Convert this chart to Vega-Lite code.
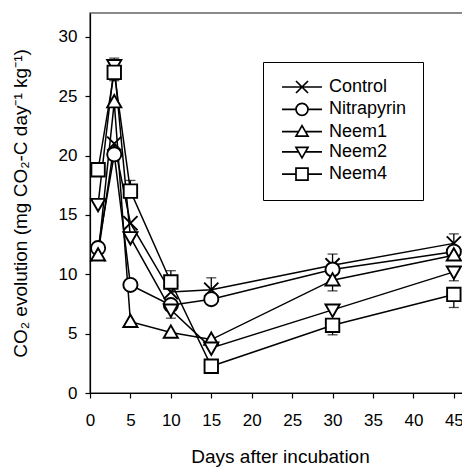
{
  "$schema": "https://vega.github.io/schema/vega-lite/v6.json",
  "width": 380,
  "height": 380,
  "autosize": {"type": "none"},
  "padding": {"left": 90, "top": 13, "right": 0, "bottom": 75},
  "background": "white",
  "datasets": {
    "pts": [
      {"trt": "Control", "day": 1, "v": 11.7},
      {"trt": "Control", "day": 3, "v": 21.0},
      {"trt": "Control", "day": 5, "v": 14.3},
      {"trt": "Control", "day": 10, "v": 8.5},
      {"trt": "Control", "day": 15, "v": 8.7},
      {"trt": "Control", "day": 30, "v": 10.75},
      {"trt": "Control", "day": 45, "v": 12.6},
      {"trt": "Nitrapyrin", "day": 1, "v": 12.2},
      {"trt": "Nitrapyrin", "day": 3, "v": 20.1},
      {"trt": "Nitrapyrin", "day": 5, "v": 9.1},
      {"trt": "Nitrapyrin", "day": 10, "v": 7.4},
      {"trt": "Nitrapyrin", "day": 15, "v": 7.9},
      {"trt": "Nitrapyrin", "day": 30, "v": 10.4},
      {"trt": "Nitrapyrin", "day": 45, "v": 11.9},
      {"trt": "Neem1", "day": 1, "v": 11.6},
      {"trt": "Neem1", "day": 3, "v": 24.5},
      {"trt": "Neem1", "day": 5, "v": 6.0},
      {"trt": "Neem1", "day": 10, "v": 5.1},
      {"trt": "Neem1", "day": 15, "v": 4.5},
      {"trt": "Neem1", "day": 30, "v": 9.5},
      {"trt": "Neem1", "day": 45, "v": 11.6},
      {"trt": "Neem2", "day": 1, "v": 15.9},
      {"trt": "Neem2", "day": 3, "v": 27.6},
      {"trt": "Neem2", "day": 5, "v": 13.1},
      {"trt": "Neem2", "day": 10, "v": 7.0},
      {"trt": "Neem2", "day": 15, "v": 3.8},
      {"trt": "Neem2", "day": 30, "v": 7.0},
      {"trt": "Neem2", "day": 45, "v": 10.2},
      {"trt": "Neem4", "day": 1, "v": 18.8},
      {"trt": "Neem4", "day": 3, "v": 27.0},
      {"trt": "Neem4", "day": 5, "v": 17.0},
      {"trt": "Neem4", "day": 10, "v": 9.35},
      {"trt": "Neem4", "day": 15, "v": 2.25},
      {"trt": "Neem4", "day": 30, "v": 5.7},
      {"trt": "Neem4", "day": 45, "v": 8.3}
    ],
    "err": [
      {"trt": "Neem2", "day": 3, "v": 27.6, "e": 28.2},
      {"trt": "Neem4", "day": 3, "v": 27.0, "e": 26.3},
      {"trt": "Neem4", "day": 5, "v": 17.0, "e": 17.9},
      {"trt": "Neem4", "day": 10, "v": 9.35, "e": 10.3},
      {"trt": "Neem2", "day": 10, "v": 7.0, "e": 6.3},
      {"trt": "Control", "day": 15, "v": 8.7, "e": 9.7},
      {"trt": "Control", "day": 30, "v": 10.75, "e": 11.7},
      {"trt": "Neem1", "day": 30, "v": 9.5, "e": 8.6},
      {"trt": "Neem4", "day": 30, "v": 5.7, "e": 4.9},
      {"trt": "Control", "day": 45, "v": 12.6, "e": 13.4},
      {"trt": "Neem2", "day": 45, "v": 10.2, "e": 9.45},
      {"trt": "Neem4", "day": 45, "v": 8.3, "e": 7.2}
    ]
  },
  "layer": [
    {
      "data": {"name": "pts"},
      "mark": {"type": "line", "color": "black", "strokeWidth": 1.5},
      "encoding": {
        "x": {
          "field": "day", "type": "quantitative",
          "scale": {"domain": [0, 47], "nice": false, "zero": false},
          "axis": {
            "title": "Days after incubation",
            "values": [0, 5, 10, 15, 20, 25, 30, 35, 40, 45],
            "labelFlush": false,
            "labelPadding": 14,
            "titlePadding": 19
          }
        },
        "y": {
          "field": "v", "type": "quantitative",
          "scale": {"domain": [0, 32], "nice": false},
          "axis": {
            "title": "CO₂ evolution (mg CO₂-C day⁻¹ kg⁻¹)",
            "values": [0, 5, 10, 15, 20, 25, 30],
            "labelPadding": 8,
            "titlePadding": 28
          }
        },
        "detail": {"field": "trt"},
        "order": {"field": "day"}
      }
    },
    {
      "data": {"name": "err"},
      "mark": {"type": "rule", "color": "black", "strokeWidth": 1.3},
      "encoding": {
        "x": {"field": "day", "type": "quantitative"},
        "y": {"field": "v", "type": "quantitative"},
        "y2": {"field": "e"}
      }
    },
    {
      "data": {"name": "err"},
      "mark": {"type": "tick", "orient": "horizontal", "color": "black", "size": 10, "thickness": 1.3},
      "encoding": {
        "x": {"field": "day", "type": "quantitative"},
        "y": {"field": "e", "type": "quantitative"}
      }
    },
    {
      "data": {"name": "pts"},
      "mark": {"type": "point", "fill": "white", "stroke": "black", "strokeWidth": 1.9, "opacity": 1, "size": 200},
      "encoding": {
        "x": {"field": "day", "type": "quantitative"},
        "y": {"field": "v", "type": "quantitative"},
        "shape": {
          "field": "trt", "type": "nominal",
          "scale": {
            "domain": ["Control", "Nitrapyrin", "Neem1", "Neem2", "Neem4"],
            "range": [
              "M-1,-1L1,1M-1,1L1,-1",
              "circle",
              "M0,-1L1,0.75L-1,0.75Z",
              "M0,1L1,-0.75L-1,-0.75Z",
              "M-0.95,-0.95L0.95,-0.95L0.95,0.95L-0.95,0.95Z"
            ]
          },
          "legend": null
        }
      }
    },
    {
      "data": {"name": "pts"},
      "transform": [{"filter": "datum.day < 0"}],
      "mark": {"type": "point", "filled": false, "color": "black", "opacity": 1, "strokeWidth": 1.7},
      "encoding": {
        "x": {"field": "day", "type": "quantitative"},
        "y": {"field": "v", "type": "quantitative"},
        "shape": {
          "field": "trt", "type": "nominal",
          "scale": {
            "domain": ["Control", "Nitrapyrin", "Neem1", "Neem2", "Neem4"],
            "range": [
              "M-3.33,0L3.33,0M-1,-1L1,1M-1,1L1,-1",
              "M-3.33,0L-1,0M1,0L3.33,0M1,0A1,1,0,1,1,-1,0A1,1,0,1,1,1,0Z",
              "M-3.33,0L-0.57,0M0.57,0L3.33,0M0,-1L1,0.75L-1,0.75Z",
              "M-3.33,0L-0.57,0M0.57,0L3.33,0M0,1L1,-0.75L-1,-0.75Z",
              "M-3.33,0L-1,0M1,0L3.33,0M-1,-1L1,-1L1,1L-1,1Z"
            ]
          },
          "legend": {
            "title": null,
            "orient": "none",
            "legendX": 173,
            "legendY": 49,
            "strokeColor": "black",
            "padding": 16,
            "symbolSize": 144,
            "symbolOffset": 14,
            "labelOffset": 18,
            "labelFontSize": 18,
            "labelFont": "Liberation Sans",
            "labelColor": "black",
            "rowPadding": 2.3,
            "symbolStrokeWidth": 1.7,
            "symbolStrokeColor": "black",
            "symbolOpacity": 1
          }
        }
      }
    }
  ],
  "resolve": {"scale": {"shape": "independent"}, "legend": {"shape": "independent"}},
  "config": {
    "view": {"stroke": "#666666", "strokeWidth": 1.5},
    "axis": {
      "domainColor": "black",
      "tickColor": "black",
      "labelColor": "black",
      "titleColor": "black",
      "labelFont": "Liberation Sans",
      "titleFont": "Liberation Sans",
      "labelFontSize": 17,
      "titleFontSize": 19,
      "titleFontWeight": "normal",
      "grid": false,
      "tickSize": 5,
      "domainWidth": 1.2,
      "tickWidth": 1.2
    }
  }
}
